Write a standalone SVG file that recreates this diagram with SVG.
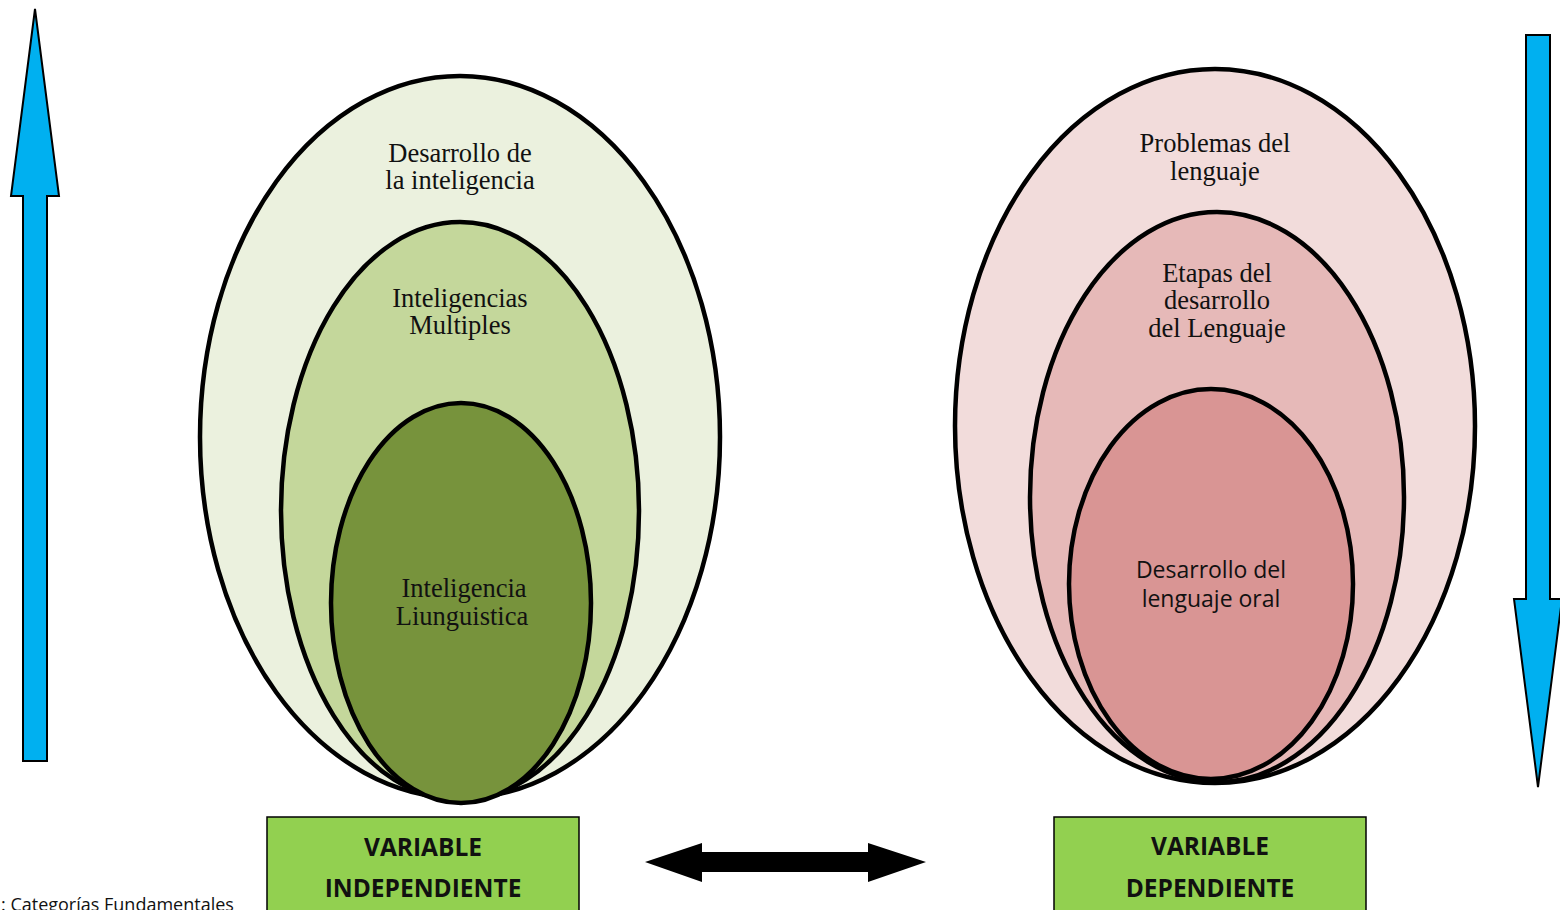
<svg xmlns="http://www.w3.org/2000/svg" width="1560" height="910" viewBox="0 0 1560 910">
<style>
.ell{stroke:#000;stroke-width:4.5}
.serif{font-family:"Liberation Serif","Times New Roman",serif;font-size:26.5px;fill:#111;text-anchor:middle}
.sans{font-family:"Open Sans","Liberation Sans",sans-serif;font-size:23px;fill:#111;text-anchor:middle}
.box{fill:#92D050;stroke:#000;stroke-width:1.5}
.boxt{font-family:"Open Sans","Liberation Sans",sans-serif;font-size:24.5px;font-weight:bold;fill:#111;text-anchor:middle}
.blue{fill:#00B0F0;stroke:#000;stroke-width:2;stroke-linejoin:miter}
</style>
<rect width="1560" height="910" fill="#fff"/>
<g id="arrows">
<polygon class="blue" points="35,9 59,196 47,196 47,761 23,761 23,196 11,196"/>
<polygon class="blue" points="1526,35 1550,35 1550,599 1562,599 1538,787 1514,599 1526,599"/>
<polygon fill="#000" points="645,862 702,843 702,852 868,852 868,843 926,862 868,882 868,872 702,872 702,882"/>
</g>
<g id="left-outer">
<ellipse class="ell" cx="460" cy="437" rx="260" ry="361" fill="#EBF1DE"/>
<text class="serif" x="460" y="162">Desarrollo de</text>
<text class="serif" x="460" y="189">la inteligencia</text>
</g>
<g id="left-middle">
<ellipse class="ell" cx="460" cy="511" rx="179" ry="289" fill="#C4D79B"/>
<text class="serif" x="460" y="307">Inteligencias</text>
<text class="serif" x="460" y="334">Multiples</text>
</g>
<g id="left-inner">
<ellipse class="ell" cx="461" cy="603" rx="130" ry="200" fill="#77933C"/>
<text class="serif" x="464" y="597">Inteligencia</text>
<text class="serif" x="462" y="625">Liunguistica</text>
</g>
<g id="right-outer">
<ellipse class="ell" cx="1215" cy="426" rx="260" ry="357" fill="#F2DCDB"/>
<text class="serif" x="1215" y="152">Problemas del</text>
<text class="serif" x="1215" y="180">lenguaje</text>
</g>
<g id="right-middle">
<ellipse class="ell" cx="1217" cy="497" rx="187" ry="285" fill="#E6B9B8"/>
<text class="serif" x="1217" y="282">Etapas del</text>
<text class="serif" x="1217" y="309">desarrollo</text>
<text class="serif" x="1217" y="337">del Lenguaje</text>
</g>
<g id="right-inner">
<ellipse class="ell" cx="1211" cy="584" rx="142" ry="195" fill="#D99594"/>
<text class="sans" x="1211" y="578">Desarrollo del</text>
<text class="sans" x="1211" y="607">lenguaje oral</text>
</g>
<g id="box-independiente">
<rect class="box" x="267" y="817" width="312" height="100"/>
<text class="boxt" x="423" y="856">VARIABLE</text>
<text class="boxt" x="423" y="897">INDEPENDIENTE</text>
</g>
<g id="box-dependiente">
<rect class="box" x="1054" y="817" width="312" height="100"/>
<text class="boxt" x="1210" y="855">VARIABLE</text>
<text class="boxt" x="1210" y="897">DEPENDIENTE</text>
</g>
<text x="1" y="911" font-family="'Open Sans','Liberation Sans',sans-serif" font-size="18" fill="#111">: Categorías Fundamentales</text>
</svg>
